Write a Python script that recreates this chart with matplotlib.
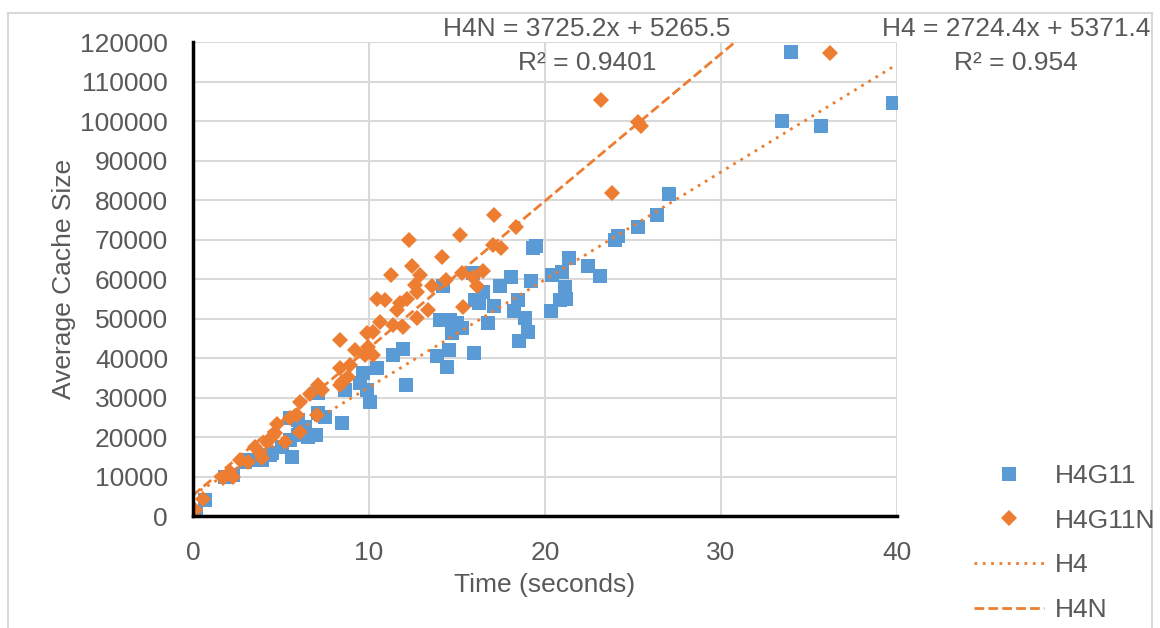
import numpy as np
import matplotlib
matplotlib.use('Agg')
import matplotlib.pyplot as plt
from matplotlib.patches import Rectangle
from matplotlib.lines import Line2D

# H4G11 series (blue squares)
h4g11_time = [0.17, 0.68, 1.82, 2.29, 2.95, 3.14, 3.90, 4.38, 4.47, 5.04, 5.61, 5.51, 5.98, 5.51,
              5.98, 6.36, 6.08, 6.53, 6.97, 7.12, 7.50, 7.12, 8.45, 8.64, 9.49, 9.68, 9.87, 10.06,
              10.44, 11.38, 11.91, 12.09, 13.88, 14.41, 14.56, 14.70, 14.03, 14.60, 15.02, 15.27,
              14.19, 15.97, 15.93, 16.46, 16.02, 16.27, 16.78, 17.10, 17.44, 18.05, 18.24, 18.48,
              18.86, 19.05, 18.51, 19.19, 19.34, 19.49, 20.32, 20.38, 20.95, 21.14, 21.19, 20.85,
              21.35, 22.43, 23.13, 23.98, 24.16, 25.27, 26.35, 27.03, 33.45, 33.96, 35.66, 39.76]
h4g11_cache = [700, 4050, 9950, 10400, 13750, 14200, 14200, 15450, 15900, 17550, 15000, 19250, 20500, 24750,
               24300, 22600, 21800, 20100, 20500, 26000, 25150, 31050, 23450, 31900, 33600, 36100, 31900, 28950,
               37400, 40750, 42200, 33250, 40500, 37800, 42050, 46250, 49600, 49600, 48950, 47500,
               58250, 41350, 61600, 56800, 54700, 53850, 48800, 53150, 58250, 60450, 52000, 54700,
               50050, 46650, 44400, 59600, 67800, 68350, 52000, 61000, 61850, 58050, 54850, 54700,
               65400, 63400, 60850, 69900, 70900, 73250, 76200, 81500, 100100, 117550, 98750, 104500]

# H4G11N series (orange diamonds)
h4g11n_time = [0.11, 0.59, 1.72, 2.10, 2.29, 2.67, 3.14, 3.52, 3.81, 3.90, 4.19, 4.47, 4.66, 4.79,
               5.23, 5.51, 5.89, 6.08, 6.08, 6.65, 7.03, 7.12, 7.31, 8.35, 8.45, 8.82, 8.35, 8.92,
               9.20, 9.96, 10.24, 9.77, 8.35, 9.87, 10.24, 10.63, 11.35, 11.95, 10.44, 10.91, 12.14,
               11.76, 11.57, 12.71, 13.37, 12.61, 12.74, 13.56, 14.38, 12.90, 11.23, 12.43, 14.13,
               12.29, 15.17, 15.27, 16.46, 15.89, 16.15, 15.32, 17.03, 17.48, 17.10, 18.35, 23.79,
               23.16, 25.30, 25.44, 36.19]
h4g11n_cache = [1500, 4250, 9550, 11200, 9800, 14200, 13750, 17550, 15900, 14600, 18800, 20100, 20950, 23300,
                18800, 24750, 25550, 21350, 28950, 30900, 25550, 33150, 31900, 33150, 34000, 35250, 37400, 38250,
                42050, 42850, 40750, 40750, 44550, 46250, 46650, 49200, 48350, 47950, 54850, 54700, 54850,
                53850, 52150, 50050, 52150, 58500, 56800, 58250, 59750, 61000, 61000, 63300, 65500,
                69900, 71150, 61600, 62100, 60450, 58250, 53000, 68600, 67800, 76200, 73250, 81700,
                105350, 99850, 98750, 117150]

# trendline coefficients shown on the chart
h4_slope, h4_icept = 2724.4, 5371.4
h4n_slope, h4n_icept = 3725.2, 5265.5

blue = '#5B9BD5'
orange = '#ED7D31'
gray = '#595959'
fs = 19

plt.rcParams['font.family'] = ['Liberation Sans', 'DejaVu Sans']

fig = plt.figure(figsize=(11.6, 6.28), dpi=100)
ax = fig.add_axes([0.1664, 0.1783, 0.6069, 0.7548])

ax.plot(h4g11_time, h4g11_cache, linestyle='none', marker='s', markersize=10,
        color=blue, markeredgewidth=0, zorder=3)
ax.plot(h4g11n_time, h4g11n_cache, linestyle='none', marker='D', markersize=8,
        color=orange, markeredgewidth=0, zorder=4)

xs = np.array([0, max(h4g11_time)])
ax.plot(xs, h4_slope * xs + h4_icept, color=orange, linewidth=2,
        linestyle=(0, (1, 2)), zorder=5)
xs = np.array([0, max(h4g11n_time)])
ax.plot(xs, h4n_slope * xs + h4n_icept, color=orange, linewidth=2,
        linestyle=(0, (3.5, 1.5)), zorder=5)

ax.set_xlim(0, 40)
ax.set_ylim(0, 120000)
ax.set_xticks(np.arange(0, 41, 10))
ax.set_yticks(np.arange(0, 120001, 10000))
ax.grid(True, color='#D9D9D9', linewidth=1.5)
ax.set_axisbelow(True)
for s in ['top', 'right']:
    ax.spines[s].set_visible(False)
for s in ['left', 'bottom']:
    ax.spines[s].set_linewidth(2.5)
    ax.spines[s].set_color('black')
    ax.spines[s].set_zorder(6)
ax.tick_params(length=0, labelsize=fs, labelcolor=gray)
ax.tick_params(axis='y', pad=18)
ax.tick_params(axis='x', pad=18)

ax.set_xlabel('Time (seconds)', fontsize=fs, color=gray, labelpad=6)
ax.set_ylabel('Average Cache Size', fontsize=fs, color=gray, labelpad=3)

# trendline equations
fig.text(587 / 1160, 1 - 29 / 628, 'H4N = 3725.2x + 5265.5', ha='center', va='center', fontsize=fs, color=gray)
fig.text(587 / 1160, 1 - 63 / 628, 'R² = 0.9401', ha='center', va='center', fontsize=fs, color=gray)
fig.text(1016 / 1160, 1 - 29 / 628, 'H4 = 2724.4x + 5371.4', ha='center', va='center', fontsize=fs, color=gray)
fig.text(1016 / 1160, 1 - 63 / 628, 'R² = 0.954', ha='center', va='center', fontsize=fs, color=gray)

handles = [
    Line2D([], [], linestyle='none', marker='s', markersize=10, color=blue, markeredgewidth=0),
    Line2D([], [], linestyle='none', marker='D', markersize=8, color=orange, markeredgewidth=0),
    Line2D([], [], color=orange, linewidth=2, linestyle=(0, (1, 2))),
    Line2D([], [], color=orange, linewidth=2, linestyle=(0, (3.5, 1.5))),
]
leg = fig.legend(handles, ['H4G11', 'H4G11N', 'H4', 'H4N'], loc='upper left',
                 bbox_to_anchor=(974 / 1160, 1 - 464 / 628), frameon=False, fontsize=fs,
                 handlelength=2.65, handletextpad=0.4, labelspacing=0.78, borderpad=0, borderaxespad=0)
for t in leg.get_texts():
    t.set_color(gray)

fig.patches.append(Rectangle((8 / 1160, -0.01), 1144 / 1160, 1 - 13 / 628 + 0.01,
                             transform=fig.transFigure, fill=False, edgecolor='#D9D9D9', linewidth=1.5))

fig.savefig('out.png', dpi=100)
